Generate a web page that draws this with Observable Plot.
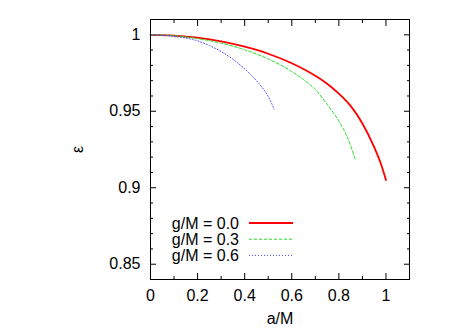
<!DOCTYPE html>
<html><head><meta charset="utf-8">
<script src="https://cdn.jsdelivr.net/npm/d3@7"></script>
<script src="https://cdn.jsdelivr.net/npm/@observablehq/plot@0.6"></script>
<style>body{margin:0;background:#fff} svg{display:block}</style>
</head><body><div id="chart"></div>
<script>
// Series
const seriesNames = ["g/M = 0.0", "g/M = 0.3", "g/M = 0.6"];
const seriesColors = ["#ff0000", "#22e022", "#4848ff"];
const seriesDash = [null, "3,2", "1,2"];
const seriesWidth = [1.8, 1, 1];

const aG00 = [0, 0.1, 0.2, 0.3, 0.4, 0.5, 0.6, 0.7, 0.75, 0.8, 0.85, 0.9, 0.95, 0.98, 1.0];
const eG00 = [1.0, 0.9995, 0.9981, 0.9957, 0.9922, 0.9876, 0.9814, 0.9732, 0.9680, 0.9615, 0.9535, 0.9420, 0.9265, 0.9150, 0.9050];

const aG03 = [0, 0.1, 0.2, 0.3, 0.4, 0.5, 0.6, 0.65, 0.7, 0.75, 0.8, 0.84, 0.87];
const eG03 = [1.0, 0.9994, 0.9975, 0.9945, 0.9902, 0.9842, 0.9760, 0.9707, 0.9642, 0.9545, 0.9435, 0.9315, 0.9183];

const aG06 = [0, 0.1, 0.2, 0.25, 0.3, 0.35, 0.4, 0.45, 0.48, 0.5, 0.525];
const eG06 = [1.0, 0.9990, 0.9960, 0.9930, 0.9890, 0.9840, 0.9777, 0.9700, 0.9643, 0.9597, 0.9514];

// Axes
const xTicks = [0, 0.2, 0.4, 0.6, 0.8, 1];
const xTickLabels = ["0", "0.2", "0.4", "0.6", "0.8", "1"];
const xMinor = [0.1, 0.3, 0.5, 0.7, 0.9];
const yTicks = [0.85, 0.9, 0.95, 1];
const yTickLabels = ["0.85", "0.9", "0.95", "1"];
const yMinor = [0.84, 0.86, 0.87, 0.88, 0.89, 0.91, 0.92, 0.93, 0.94, 0.96, 0.97, 0.98, 0.99, 1.01];
const xLabel = "a/M";
const yLabel = "ε";

const xs = [aG00, aG03, aG06];
const ys = [eG00, eG03, eG06];
const rows = [];
xs.forEach((arr, s) => arr.forEach((a, i) => rows.push({a, e: ys[s][i], s})));

const font = "'Liberation Sans', Arial, Helvetica, sans-serif";
const lineMarks = seriesNames.map((name, s) =>
  Plot.line(rows.filter(r => r.s === s), {
    x: "a", y: "e", stroke: seriesColors[s], strokeWidth: seriesWidth[s],
    strokeDasharray: seriesDash[s], curve: "monotone-x"
  })
);

const chart = Plot.plot({
  width: 474, height: 332,
  marginLeft: 150, marginRight: 65, marginTop: 19, marginBottom: 53,
  style: {fontFamily: font, fontSize: "16px", background: "white", color: "black"},
  x: {domain: [0, 1.1]},
  y: {domain: [0.84, 1.01]},
  marks: [
    Plot.axisX(xTicks, {anchor: "bottom", tickSize: -6, tickPadding: 16, fontSize: 16,
      tickFormat: d => xTickLabels[xTicks.indexOf(d)], label: null}),
    Plot.axisX(xTicks, {anchor: "top", tickSize: -6, tickFormat: () => "", label: null}),
    Plot.axisX(xMinor, {anchor: "bottom", tickSize: -3, tickFormat: () => "", label: null}),
    Plot.axisX(xMinor, {anchor: "top", tickSize: -3, tickFormat: () => "", label: null}),
    Plot.axisX([], {anchor: "bottom", label: xLabel, labelAnchor: "center", labelArrow: "none", labelOffset: 44, fontSize: 16}),
    Plot.axisY(yTicks, {anchor: "left", tickSize: -6, tickPadding: 16, fontSize: 16,
      tickFormat: d => yTickLabels[yTicks.indexOf(d)], label: null}),
    Plot.axisY(yTicks, {anchor: "right", tickSize: -6, tickFormat: () => "", label: null}),
    Plot.axisY(yMinor, {anchor: "left", tickSize: -3, tickFormat: () => "", label: null}),
    Plot.axisY(yMinor, {anchor: "right", tickSize: -3, tickFormat: () => "", label: null}),
    Plot.axisY([], {anchor: "left", label: yLabel, labelAnchor: "center", labelArrow: "none", labelOffset: 79, fontSize: 16}),
    ...lineMarks,
    Plot.frame({stroke: "black", strokeWidth: 1})
  ]
});
document.getElementById("chart").appendChild(chart);

// In-plot legend (bottom-left of the frame)
const xS = chart.scale("x"), yS = chart.scale("y");
const fLeft = xS.range[0], fBottom = yS.range[0];
const svg = d3.select(chart);
const lg = svg.append("g").attr("font-family", font).attr("font-size", 16);
seriesNames.forEach((name, s) => {
  const cy = fBottom - 56 + s * 16.2;
  lg.append("text").attr("x", fLeft + 89).attr("y", cy).attr("dy", "0.36em")
    .attr("text-anchor", "end").attr("fill", "black").text(name);
  lg.append("line").attr("x1", fLeft + 99).attr("x2", fLeft + 143)
    .attr("y1", cy).attr("y2", cy)
    .attr("stroke", seriesColors[s]).attr("stroke-width", seriesWidth[s])
    .attr("stroke-dasharray", seriesDash[s]);
});
</script>
</body></html>
